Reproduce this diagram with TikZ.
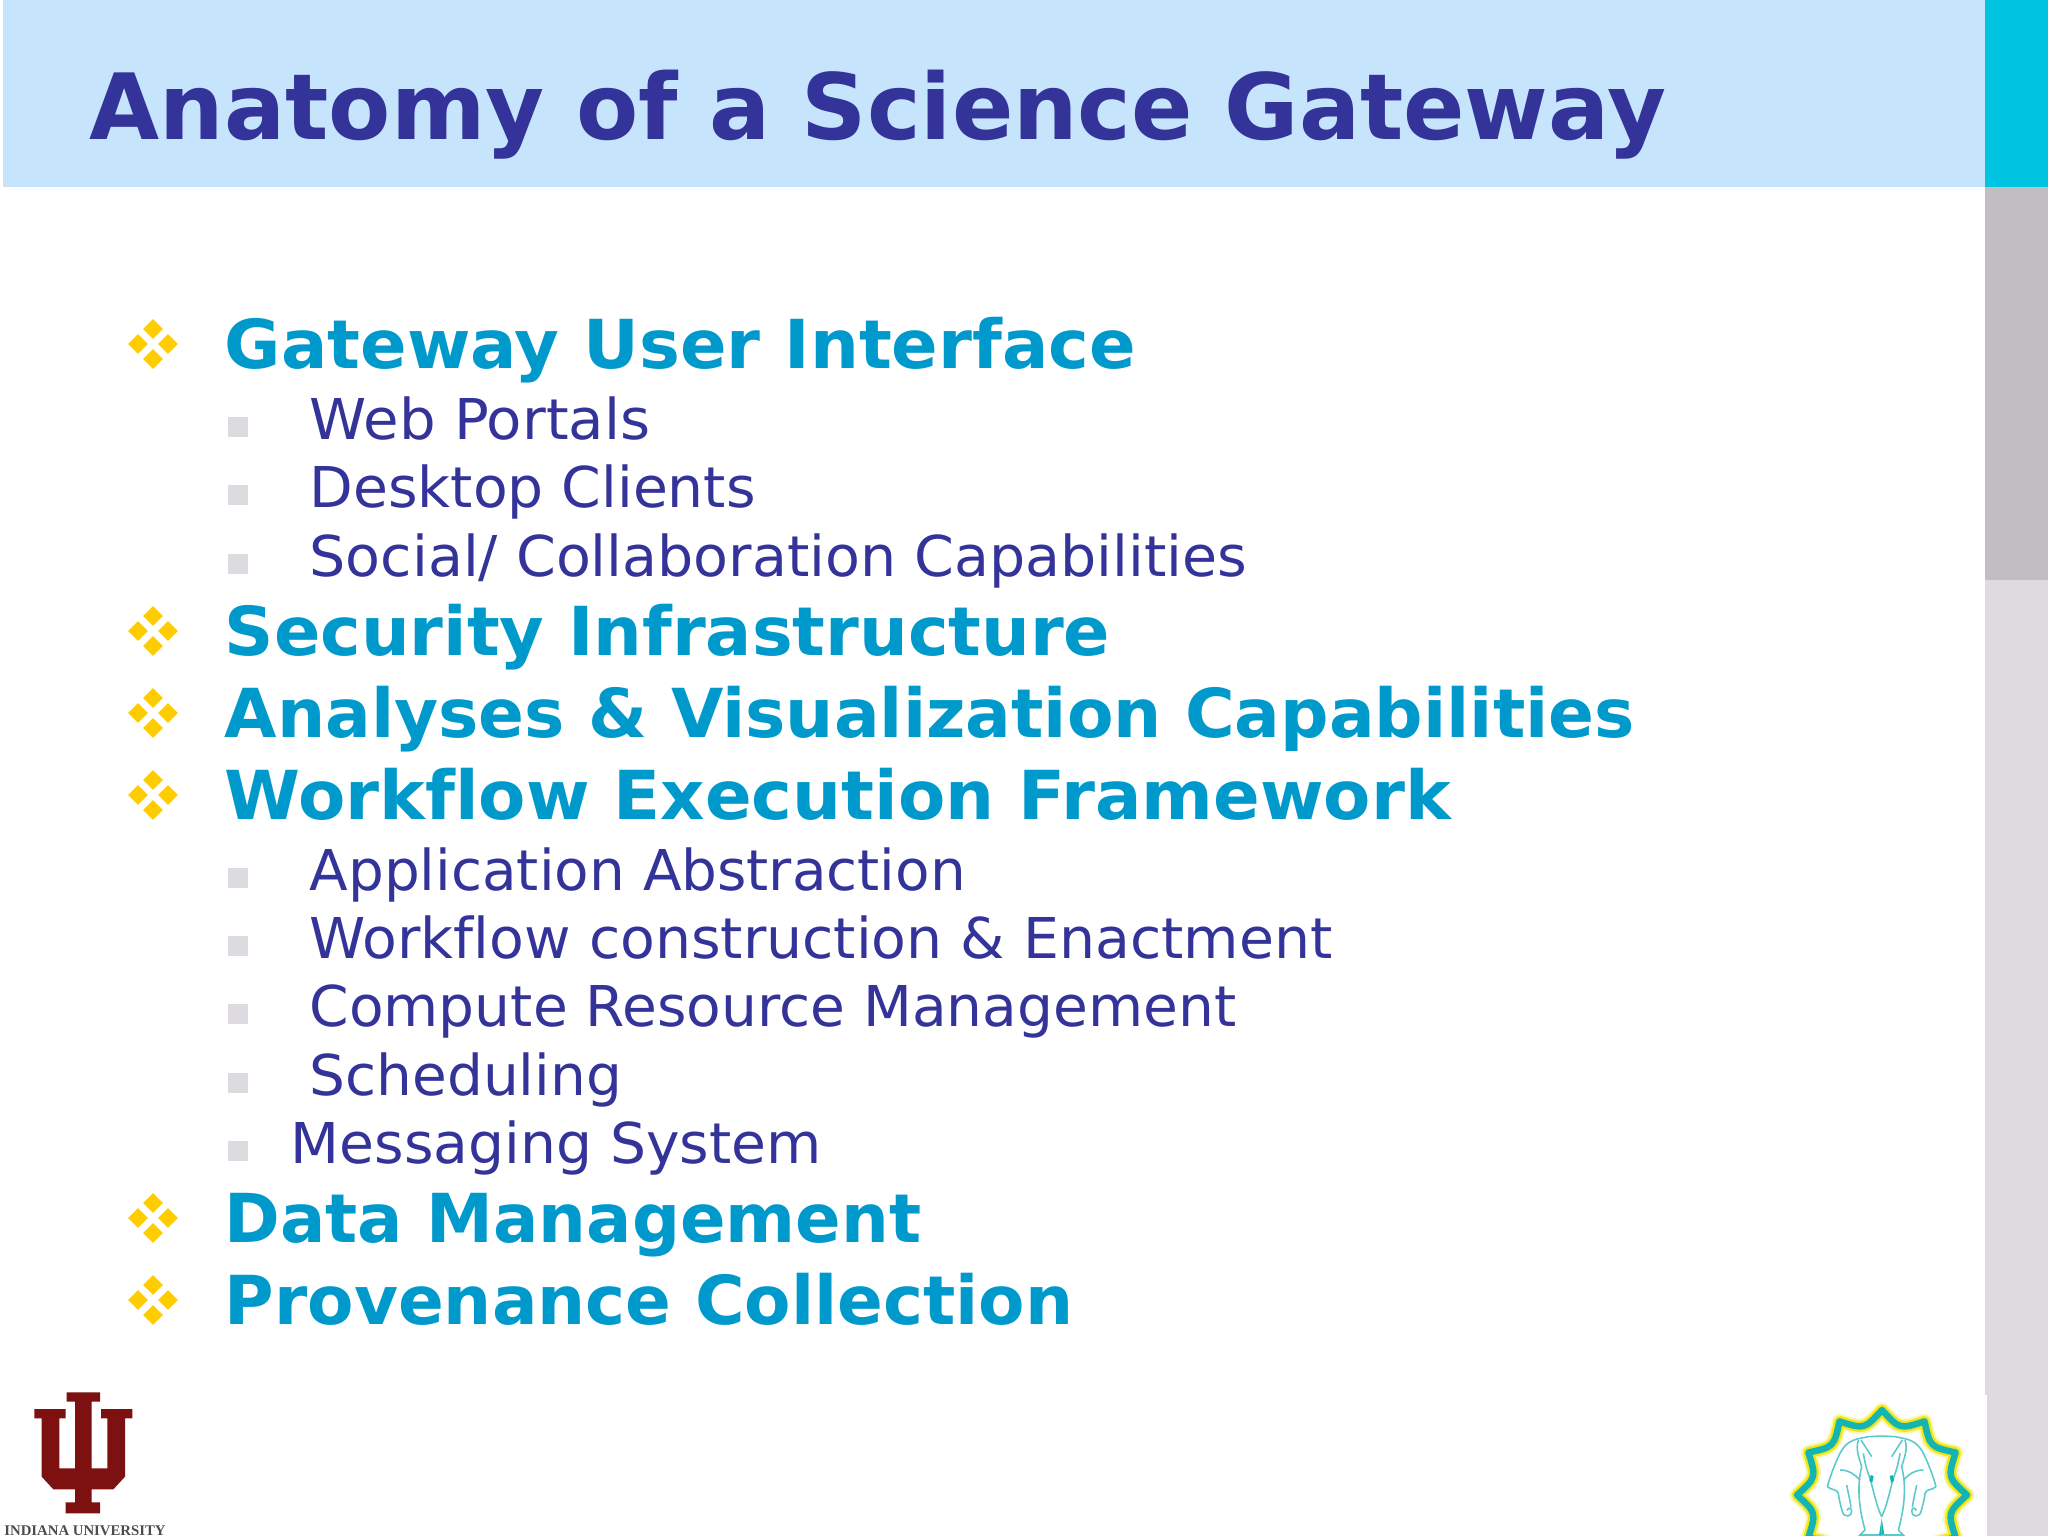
\documentclass[tikz,border=0pt]{standalone}
\usepackage{fontspec}
\setmainfont[Ligatures=NoCommon]{DejaVu Sans}
\newfontfamily\serfont{Liberation Serif}
\usetikzlibrary{shapes.geometric}
\definecolor{titleblue}{HTML}{333399}
\definecolor{headblue}{HTML}{0099CC}
\definecolor{bandblue}{HTML}{C6E5FD}
\definecolor{barcyan}{HTML}{00C4E2}
\definecolor{bargray}{HTML}{C0BEC1}
\definecolor{barlight}{HTML}{DDDBDF}
\definecolor{gold}{HTML}{FFCC00}
\definecolor{iured}{HTML}{7D1010}
\definecolor{ringteal}{HTML}{14B4B4}
\definecolor{ringyellow}{HTML}{F0E614}
\tikzset{
    titletext/.style={anchor=base west,inner sep=0pt,text=titleblue,transform shape,font=\fontsize{26}{30}\selectfont\bfseries},
    headtext/.style={anchor=base west,inner sep=0pt,text=headblue,transform shape,font=\fontsize{19.2}{22}\selectfont\bfseries},
    subtext/.style={anchor=base west,inner sep=0pt,text=titleblue,transform shape,font=\fontsize{16}{19}\selectfont},
    petal/.style={fill=gold,diamond,inner sep=0pt,minimum size=0.205cm},
    subsquare/.style={fill=barlight,inner sep=0pt,minimum size=0.2cm},
}
\begin{document}
\begin{tikzpicture}[x=0.01cm,y=-0.01cm]
    % grootte
    \useasboundingbox (0,0) rectangle (2048,1536);
    \clip (0,0) rectangle (2048,1536);
    % balken
    \fill[bandblue] (3,0) rectangle (1985,187);
    \fill[barcyan] (1985,0) rectangle (2048,187);
    \fill[bargray] (1985,187) rectangle (2048,580);
    \fill[barlight] (1985,580) rectangle (2048,1536);
    \fill[white] (1985,1395) rectangle (1987,1536);
    % titel
    \node[titletext,xscale=0.991] (title) at (89,139) {Anatomy of a Science Gateway};
    % hoofdpunten
    \foreach \name/\ypos/\sc/\txt in {
        gui/368/1.018/Gateway User Interface,
        sec/655/1.014/Security Infrastructure,
        ana/737/1.003/Analyses \& Visualization Capabilities,
        wfl/819/1.020/Workflow Execution Framework,
        dat/1242/0.995/Data Management,
        pro/1324/1.001/Provenance Collection}
    {
        \node[headtext,xscale=\sc] (\name) at (224,\ypos) {\txt};
        \foreach \dx/\dy/\part in {0/-15/a,15/0/b,0/15/c,-15/0/d}
            \node[petal] (\name-\part) at (153+\dx,\ypos-24+\dy) {};
    }
    % subpunten
    \foreach \name/\xpos/\ypos/\sc/\txt in {
        web/309/439/1.027/Web Portals,
        desk/309/507/1.009/Desktop Clients,
        soc/309/576/1.014/{Social/ Collaboration Capabilities},
        app/309/890/1.003/Application Abstraction,
        con/309/958/1.011/Workflow construction \& Enactment,
        com/309/1026/1.006/Compute Resource Management,
        sch/309/1095/1.004/Scheduling,
        msg/290/1163/1.008/Messaging System}
    {
        \node[subtext,xscale=\sc] (\name) at (\xpos,\ypos) {\txt};
        \node[subsquare] (\name-box) at (238,\ypos-12) {};
    }
    % IU logo
    \begin{scope}[shift={(0,1360)},x=0.01cm/3,y=-0.01cm/3]
        \fill[iured] (200,97) -- (300,97) -- (300,125) -- (275,125) -- (275,325) -- (322,325)
            -- (322,175) -- (303,175) -- (303,147) -- (397,147) -- (397,175) -- (375,175)
            -- (375,350) -- (340,388) -- (275,388) -- (275,427) -- (300,427) -- (300,460)
            -- (197,460) -- (197,427) -- (225,427) -- (225,388) -- (160,388) -- (125,350)
            -- (125,175) -- (103,175) -- (103,147) -- (197,147) -- (197,175) -- (178,175)
            -- (178,325) -- (225,325) -- (225,125) -- (200,125) -- cycle;
        \node[anchor=base,inner sep=0pt,text=black!70,font=\fontsize{4.2}{5}\serfont\bfseries] (iu) at (255,526) {INDIANA UNIVERSITY};
    \end{scope}
    % ring
    \begin{scope}[shift={(1882,1495)}]
        \draw[ringyellow!35,line width=0.15cm,line join=round] (90:85)
            \foreach \a in {90,120,...,420} { .. controls (\a+15:68) .. (\a+30:85)} -- cycle;
        \draw[ringyellow,line width=0.11cm,line join=round] (90:85)
            \foreach \a in {90,120,...,420} { .. controls (\a+15:68) .. (\a+30:85)} -- cycle;
        \draw[ringteal,line width=0.065cm,line join=round] (90:85)
            \foreach \a in {90,120,...,420} { .. controls (\a+15:68) .. (\a+30:85)} -- cycle;
    \end{scope}
    % olifanten
    \begin{scope}[shift={(1810,1420)},x=0.01cm/3,y=-0.01cm/3]
        \foreach \sx in {1,-1} {
        \begin{scope}[shift={(215,0)},xscale=\sx,ringteal!70,line width=0.45pt]
            % buitenkant
            \draw (0,48) -- (-40,50) -- (-65,55) .. controls (-90,60) and (-110,70) .. (-125,100) .. controls (-140,130) and (-155,170) .. (-163,200);
            % slurf
            \draw (-163,200) .. controls (-150,212) and (-135,205) .. (-130,220) .. controls (-128,240) and (-122,260) .. (-118,275) .. controls (-112,295) and (-88,290) .. (-90,272) .. controls (-92,262) and (-102,262) .. (-103,272);
            \draw (-105,195) .. controls (-100,220) and (-95,240) .. (-92,262);
            % midden
            \draw (-70,60) .. controls (-80,90) and (-65,120) .. (-60,140) .. controls (-70,180) and (-75,240) .. (-50,330);
            \draw (-55,100) .. controls (-50,130) and (-45,150) .. (-35,175) .. controls (-25,210) and (-15,260) .. (0,290);
            \draw (-125,150) .. controls (-100,150) and (-85,160) .. (-65,180);
            \draw (-62,60) -- (-30,110);
            % voeten
            \draw (-50,330) -- (-65,345) -- (0,345);
            \fill[ringteal] (-33,165) -- (-24,168) -- (-28,188) -- (-37,182) -- cycle;
            \fill[ringteal] (0,295) -- (8,345) -- (0,345) -- cycle;
        \end{scope}
        }
    \end{scope}
\end{tikzpicture}
\end{document}
